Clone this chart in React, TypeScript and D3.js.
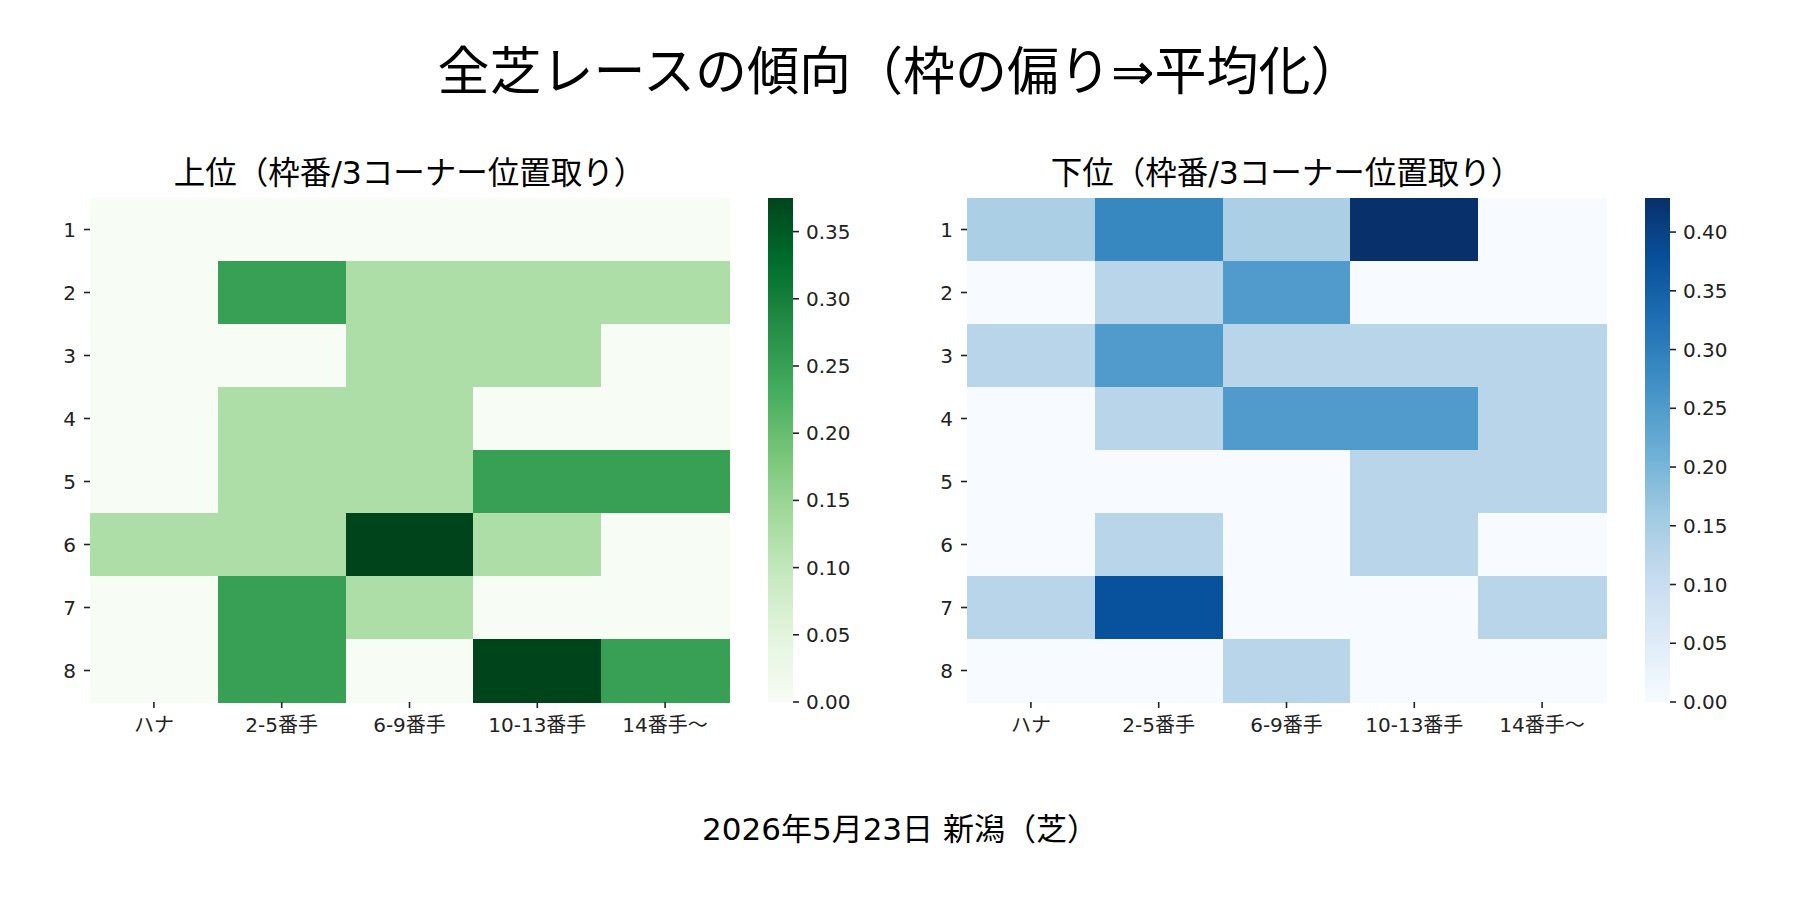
import * as React from 'react';
import * as d3 from 'd3';

// 枠番 (rows) × 3コーナー位置取り (columns)
const rowLabels = ['1', '2', '3', '4', '5', '6', '7', '8'];
const colLabels = ['ハナ', '2-5番手', '6-9番手', '10-13番手', '14番手〜'];

// 上位 share per cell
const upperValues = [
    [0, 0, 0, 0, 0],
    [0, 0.25, 0.125, 0.125, 0.125],
    [0, 0, 0.125, 0.125, 0],
    [0, 0.125, 0.125, 0, 0],
    [0, 0.125, 0.125, 0.25, 0.25],
    [0.125, 0.125, 0.375, 0.125, 0],
    [0, 0.25, 0.125, 0, 0],
    [0, 0.25, 0, 0.375, 0.25],
];

// 下位 share per cell
const lowerValues = [
    [0.143, 0.286, 0.143, 0.429, 0],
    [0, 0.125, 0.25, 0, 0],
    [0.125, 0.25, 0.125, 0.125, 0.125],
    [0, 0.125, 0.25, 0.25, 0.125],
    [0, 0, 0, 0.125, 0.125],
    [0, 0.125, 0, 0.125, 0],
    [0.125, 0.375, 0, 0, 0.125],
    [0, 0, 0.125, 0, 0],
];

const upperTicks = [0, 0.05, 0.1, 0.15, 0.2, 0.25, 0.3, 0.35];
const lowerTicks = [0, 0.05, 0.1, 0.15, 0.2, 0.25, 0.3, 0.35, 0.4];

const mainTitle = '全芝レースの傾向（枠の偏り⇒平均化）';
const upperTitle = '上位（枠番/3コーナー位置取り）';
const lowerTitle = '下位（枠番/3コーナー位置取り）';
const footer = '2026年5月23日 新潟（芝）';

const width = 1800;
const height = 900;
const top = 198;
const bottom = 702;
const mapWidth = 639;
const font = '"DejaVu Sans", "Noto Sans CJK JP", sans-serif';
const ink = '#222';

const fmt = d3.format('.2f');

interface HeatmapProps {
    id: string;
    x0: number;
    title: string;
    values: number[][];
    scheme: readonly string[];
    ticks: number[];
}

function Heatmap({id, x0, title, values, scheme, ticks}: HeatmapProps) {
    const vmax = d3.max(values.flat()) || 1;
    const xScale = d3.scaleBand().domain(colLabels).range([x0, x0 + mapWidth]);
    const yScale = d3.scaleBand().domain(rowLabels).range([top, bottom]);
    const color = d3.scaleLinear<string>()
        .domain(scheme.map((_, i) => (i / (scheme.length - 1)) * vmax))
        .range(scheme as string[])
        .interpolate(d3.interpolateRgb);
    const cbX = x0 + mapWidth + 39;
    const cbW = 25;
    const cbScale = d3.scaleLinear().domain([0, vmax]).range([bottom, top]);

    return (
        <g>
            <defs>
                <linearGradient id={id} x1="0" y1="1" x2="0" y2="0">
                    {scheme.map((c, i) => (
                        <stop key={i} offset={i / (scheme.length - 1)} stopColor={c}/>
                    ))}
                </linearGradient>
            </defs>
            <text x={x0 + mapWidth / 2} y={184} textAnchor="middle" fontSize={31.5} fill="#000">
                {title}
            </text>
            <g shapeRendering="crispEdges">
                {values.map((row, r) => row.map((v, c) => (
                    <rect
                        key={`${r}-${c}`}
                        x={xScale(colLabels[c])}
                        y={yScale(rowLabels[r])}
                        width={xScale.bandwidth() + 0.5}
                        height={yScale.bandwidth() + 0.5}
                        fill={color(v)}
                    />
                )))}
            </g>
            {rowLabels.map(l => {
                const y = (yScale(l) || 0) + yScale.bandwidth() / 2;
                return (
                    <g key={l}>
                        <line x1={x0 - 6} x2={x0} y1={y} y2={y} stroke={ink} strokeWidth={1.6}/>
                        <text x={x0 - 14} y={y} textAnchor="end" dominantBaseline="central"
                              fontSize={20} fill={ink}>{l}</text>
                    </g>
                );
            })}
            {colLabels.map(l => {
                const x = (xScale(l) || 0) + xScale.bandwidth() / 2;
                return (
                    <g key={l}>
                        <line x1={x} x2={x} y1={bottom} y2={bottom + 6} stroke={ink} strokeWidth={1.6}/>
                        <text x={x} y={732} textAnchor="middle" fontSize={20} fill={ink}>{l}</text>
                    </g>
                );
            })}
            <rect x={cbX} y={top} width={cbW} height={bottom - top} fill={`url(#${id})`}/>
            {ticks.map(t => (
                <g key={t}>
                    <line x1={cbX + cbW} x2={cbX + cbW + 6} y1={cbScale(t)} y2={cbScale(t)}
                          stroke={ink} strokeWidth={1.6}/>
                    <text x={cbX + cbW + 13} y={cbScale(t)} dominantBaseline="central"
                          fontSize={20} fill={ink}>{fmt(t)}</text>
                </g>
            ))}
        </g>
    );
}

export default function App() {
    return (
        <svg width={width} height={height} fontFamily={font}
             style={{position: 'absolute', left: 0, top: 0, background: '#fff'}}>
            <rect width={width} height={height} fill="#fff"/>
            <text x={width / 2} y={90} textAnchor="middle" fontSize={52} fill="#000">{mainTitle}</text>
            <Heatmap id="cb-greens" x0={90} title={upperTitle} values={upperValues}
                     scheme={d3.schemeGreens[9]} ticks={upperTicks}/>
            <Heatmap id="cb-blues" x0={967} title={lowerTitle} values={lowerValues}
                     scheme={d3.schemeBlues[9]} ticks={lowerTicks}/>
            <text x={width / 2} y={840} textAnchor="middle" fontSize={31} fill="#000">{footer}</text>
        </svg>
    );
}
